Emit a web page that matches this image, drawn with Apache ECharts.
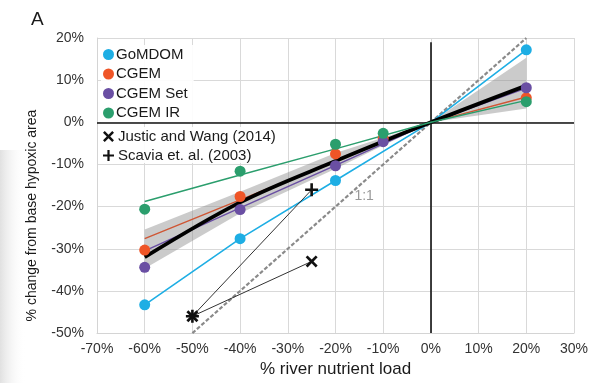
<!DOCTYPE html>
<html>
<head>
<meta charset="utf-8">
<script src="https://cdn.jsdelivr.net/npm/echarts@6/dist/echarts.min.js"></script>
<style>
  html, body { margin: 0; padding: 0; background: #fff; }
  #chart { width: 593px; height: 383px; }
</style>
</head>
<body>
<div id="chart"></div>
<script>
// Nutrient-load scenarios (x, % change in river load)
const loadLevels = [-60, -40, -20, -10, 20];

// Modelled % change in hypoxic area at each load level (null = not run)
const gomdom  = [-43.3, -27.6, -13.8, null, 17.2];
const cgem    = [-30.3, -17.6, -7.5, -3.8, 5.8];
const cgemSet = [-34.4, -20.7, -10.3, -4.6, 8.2];
const cgemIR  = [-20.6, -11.6, -5.2, -2.6, 4.9];

// Fitted response curves, all passing through the base case (0, 0)
const fitLoads   = [-60, -40, -20, 0, 20];
const gomdomFit  = [-43.3, -27.6, -13.8, 0, 17.2];
const cgemFit    = [-27.6, -18.4, -9.2, 0, 6.0];
const cgemSetFit = [-30.5, -20.3, -10.2, 0, 8.1];
const cgemIRFit  = [-18.8, -12.5, -6.3, 0, 5.2];
const meanFit    = [-32.0, -19.0, -9.2, 0, 8.7];
const bandUpper  = [-25.4, -16.5, -7.3, 0, 15.3];
const bandLower  = [-34.7, -21.6, -11.0, 0, 3.3];

// Earlier studies: common start point and each study's end point
const justicX = [-50, -25];
const justicY = [-46, -33];
const scaviaX = [-50, -25];
const scaviaY = [-46, -16];

// 1:1 reference line
const oneToOneX = [-50, 20];
const oneToOneY = [-50, 20];

// Axis ticks
const xTicks = [-70, -60, -50, -40, -30, -20, -10, 0, 10, 20, 30];
const yTicks = [-50, -40, -30, -20, -10, 0, 10, 20];

const FONT = '"Liberation Sans", Arial, Helvetica, sans-serif';
const COLORS = {
  gomdom: '#1eaee4',
  cgem: '#ef5527',
  cgemSet: '#6a4fa3',
  cgemIR: '#2b9e6d'
};

const pairs = (xs, ys) => xs.map((x, i) => [x, ys[i]]).filter(p => p[1] !== null);

const X_PATH = 'path://M1.6,0 L5,3.4 L8.4,0 L10,1.6 L6.6,5 L10,8.4 L8.4,10 L5,6.6 L1.6,10 L0,8.4 L3.4,5 L0,1.6 Z';
const PLUS_PATH = 'path://M4,0 H6 V4 H10 V6 H6 V10 H4 V6 H0 V4 H4 Z';

function fitLine(name, ys, color, width, extra) {
  return Object.assign({
    id: name,
    type: 'line',
    data: pairs(fitLoads, ys),
    showSymbol: false,
    symbol: 'none',
    lineStyle: { color: color, width: width },
    z: 3,
    silent: true
  }, extra || {});
}

function points(name, ys, color) {
  return {
    name: name,
    type: 'scatter',
    data: pairs(loadLevels, ys),
    symbol: 'circle',
    symbolSize: 11,
    itemStyle: { color: color, opacity: 1 },
    z: 6
  };
}

const legendText = { fontSize: 15, color: '#1a1a1a', lineHeight: 15, fontFamily: FONT };

const chart = echarts.init(document.getElementById('chart'), null, { renderer: 'canvas' });

chart.setOption({
  backgroundColor: '#fff',
  animation: false,
  textStyle: { fontFamily: FONT },
  grid: { left: 97, right: 19, top: 38, bottom: 44, containLabel: false },
  xAxis: {
    type: 'value',
    min: xTicks[0],
    max: xTicks[xTicks.length - 1],
    interval: 10,
    name: '% river nutrient load',
    nameLocation: 'middle',
    nameGap: 24,
    nameTextStyle: { fontSize: 17, color: '#1a1a1a', fontFamily: FONT },
    axisLine: { show: true, onZero: false, lineStyle: { color: '#d4d4d4', width: 1 } },
    axisTick: { show: false },
    axisLabel: { fontSize: 14, color: '#333', margin: 9, formatter: v => v + '%', fontFamily: FONT },
    splitLine: { show: true, lineStyle: { color: '#d9d9d9', width: 1 } }
  },
  yAxis: {
    type: 'value',
    min: yTicks[0],
    max: yTicks[yTicks.length - 1],
    interval: 10,
    name: '% change from base hypoxic area',
    nameLocation: 'middle',
    nameGap: 58,
    nameRotate: 90,
    nameTextStyle: { fontSize: 14, color: '#1a1a1a', padding: [0, 60, 0, 0], fontFamily: FONT },
    axisLine: { show: true, onZero: false, lineStyle: { color: '#d4d4d4', width: 1 } },
    axisTick: { show: false },
    axisLabel: { fontSize: 14, color: '#333', margin: 13, formatter: v => v + '%', fontFamily: FONT },
    splitLine: { show: true, lineStyle: { color: '#d9d9d9', width: 1 } }
  },
  legend: [
    {
      data: ['GoMDOM', 'CGEM', 'CGEM Set', 'CGEM IR'],
      orient: 'vertical',
      left: 101,
      top: 45,
      padding: [2, 6, 2, 2],
      itemGap: 4.5,
      itemWidth: 11,
      itemHeight: 11,
      backgroundColor: 'rgba(255,255,255,0.92)',
      textStyle: Object.assign({ padding: [0, 0, 0, -3] }, legendText),
      selectedMode: false
    },
    {
      data: ['Justic and Wang (2014)', 'Scavia et. al. (2003)'],
      orient: 'vertical',
      left: 101,
      top: 127,
      padding: [2, 2, 0, 2],
      itemGap: 4,
      itemWidth: 11,
      itemHeight: 11,
      backgroundColor: 'rgba(255,255,255,0.92)',
      textStyle: Object.assign({ padding: [0, 0, 0, -1] }, legendText),
      selectedMode: false
    }
  ],
  graphic: [
    {
      type: 'rect',
      left: 0,
      top: 150,
      shape: { width: 26, height: 233 },
      style: {
        fill: new echarts.graphic.LinearGradient(0, 0, 1, 0, [
          { offset: 0, color: 'rgba(200,200,200,0.55)' },
          { offset: 1, color: 'rgba(255,255,255,0)' }
        ])
      },
      silent: true,
      z: -1
    },
    {
      type: 'text',
      left: 31,
      top: 10,
      style: { text: 'A', fontSize: 19, fill: '#1a1a1a', fontFamily: FONT }
    }
  ],
  series: [
    // Confidence band around the ensemble mean
    {
      type: 'custom',
      silent: true,
      z: 1,
      clip: true,
      data: [[fitLoads[0], bandUpper[0]]],
      renderItem: function (params, api) {
        const up = fitLoads.map((x, i) => api.coord([x, bandUpper[i]]));
        const lo = fitLoads.map((x, i) => api.coord([x, bandLower[i]])).reverse();
        return {
          type: 'polygon',
          shape: { points: up.concat(lo) },
          style: { fill: 'rgba(140,140,140,0.45)' }
        };
      }
    },
    // 1:1 line
    {
      type: 'line',
      data: pairs(oneToOneX, oneToOneY),
      symbol: 'none',
      silent: true,
      z: 2,
      lineStyle: { color: '#8a8a8a', width: 2.2, type: [4, 2] }
    },
    {
      type: 'scatter',
      data: [[-14, -17.6]],
      symbolSize: 0,
      silent: true,
      z: 2,
      label: { show: true, formatter: '1:1', position: 'inside', fontSize: 14, color: '#7f7f7f', fontFamily: FONT }
    },
    fitLine('gomdom-fit', gomdomFit, COLORS.gomdom, 1.6),
    fitLine('cgemIR-fit', cgemIRFit, COLORS.cgemIR, 1.5, { z: 5 }),
    fitLine('cgem-fit', cgemFit, '#cf5634', 1.4),
    fitLine('cgemSet-fit', cgemSetFit, COLORS.cgemSet, 1.5),
    fitLine('mean-fit', meanFit, '#000', 3.8, { smooth: 0.35, z: 4 }),
    // Earlier study trajectories
    {
      type: 'line',
      data: pairs(justicX, justicY),
      symbol: 'none',
      silent: true,
      z: 3,
      lineStyle: { color: '#333', width: 1 }
    },
    {
      type: 'line',
      data: pairs(scaviaX, scaviaY),
      symbol: 'none',
      silent: true,
      z: 3,
      lineStyle: { color: '#333', width: 1 }
    },
    points('GoMDOM', gomdom, COLORS.gomdom),
    points('CGEM', cgem, COLORS.cgem),
    points('CGEM Set', cgemSet, COLORS.cgemSet),
    points('CGEM IR', cgemIR, COLORS.cgemIR),
    {
      name: 'Justic and Wang (2014)',
      type: 'scatter',
      data: pairs(justicX, justicY),
      symbol: X_PATH,
      symbolSize: 12,
      itemStyle: { color: '#111', opacity: 1 },
      z: 6
    },
    {
      name: 'Scavia et. al. (2003)',
      type: 'scatter',
      data: pairs(scaviaX, scaviaY),
      symbol: PLUS_PATH,
      symbolSize: 13,
      itemStyle: { color: '#111', opacity: 1 },
      z: 6
    },
    // Zero reference axes drawn through the origin
    {
      type: 'line',
      data: [],
      silent: true,
      z: 10,
      markLine: {
        silent: true,
        symbol: 'none',
        label: { show: false },
        lineStyle: { color: '#111', width: 1.6, type: 'solid' },
        data: [
          [{ coord: [xTicks[0], 0] }, { coord: [xTicks[xTicks.length - 1], 0] }],
          [{ coord: [0, 19] }, { coord: [0, yTicks[0]] }]
        ]
      }
    }
  ]
});
</script>
</body>
</html>
